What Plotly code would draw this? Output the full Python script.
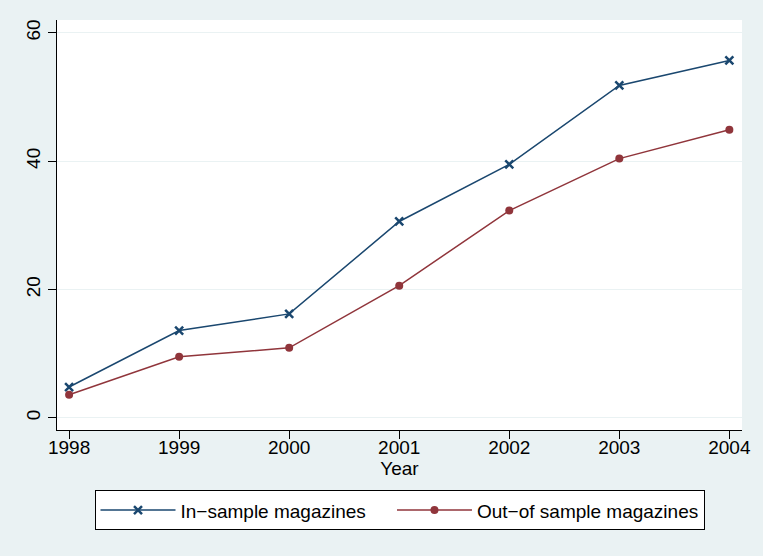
import plotly.graph_objects as go

years = [1998, 1999, 2000, 2001, 2002, 2003, 2004]
in_sample = [4.8, 13.6, 16.2, 30.6, 39.5, 51.8, 55.7]
out_sample = [3.6, 9.5, 10.9, 20.6, 32.3, 40.4, 44.9]
y_ticks = [0, 20, 40, 60]

BLUE = "#1a476f"
RED = "#90353b"
BG = "#eaf2f3"
FONT = "Liberation Sans, Arial, sans-serif"
FS = 19

fig = go.Figure()
fig.add_trace(go.Scatter(
    x=years, y=in_sample, mode="lines+markers",
    name="In\u2212sample magazines\u00a0\u00a0\u00a0\u00a0",
    line=dict(color=BLUE, width=1.5),
    marker=dict(symbol="x-thin", size=8, line=dict(color=BLUE, width=2.5), color=BLUE),
))
fig.add_trace(go.Scatter(
    x=years, y=out_sample, mode="lines+markers", name="Out\u2212of sample magazines",
    line=dict(color=RED, width=1.5),
    marker=dict(symbol="circle", size=8, color=RED),
))

fig.update_layout(
    width=763, height=556,
    paper_bgcolor=BG, plot_bgcolor="white",
    margin=dict(l=57, r=21, t=20, b=126, autoexpand=False),
    font=dict(family=FONT, size=FS, color="black"),
    xaxis=dict(
        range=[1997.89, 2004.115], tickvals=years, ticktext=[str(y) for y in years],
        showline=True, linecolor="black", linewidth=1, mirror=False,
        ticks="outside", ticklen=8, tickcolor="black", tickwidth=1,
        showgrid=False, zeroline=False,
        title=dict(text="Year", font=dict(size=FS), standoff=0),
        tickfont=dict(size=FS), ticklabelstandoff=-8,
    ),
    yaxis=dict(
        range=[-1.9, 62.0], tickvals=y_ticks,
        showline=True, linecolor="black", linewidth=1,
        ticks="outside", ticklen=8, tickcolor="black", tickwidth=1,
        showgrid=True, gridcolor=BG, gridwidth=1, zeroline=False,
        tickangle=-90, tickfont=dict(size=FS), ticklabelstandoff=0,
    ),
    legend=dict(
        orientation="h", x=0.5, xanchor="center", y=-0.147, yanchor="top",
        bgcolor="white", bordercolor="black", borderwidth=1,
        font=dict(size=FS), itemwidth=75,
    ),
    showlegend=True,
)

fig.write_html(
    "out.html",
    config={"displayModeBar": False},
    post_script="document.body.style.margin='0';document.body.style.background='#eaf2f3';",
)
